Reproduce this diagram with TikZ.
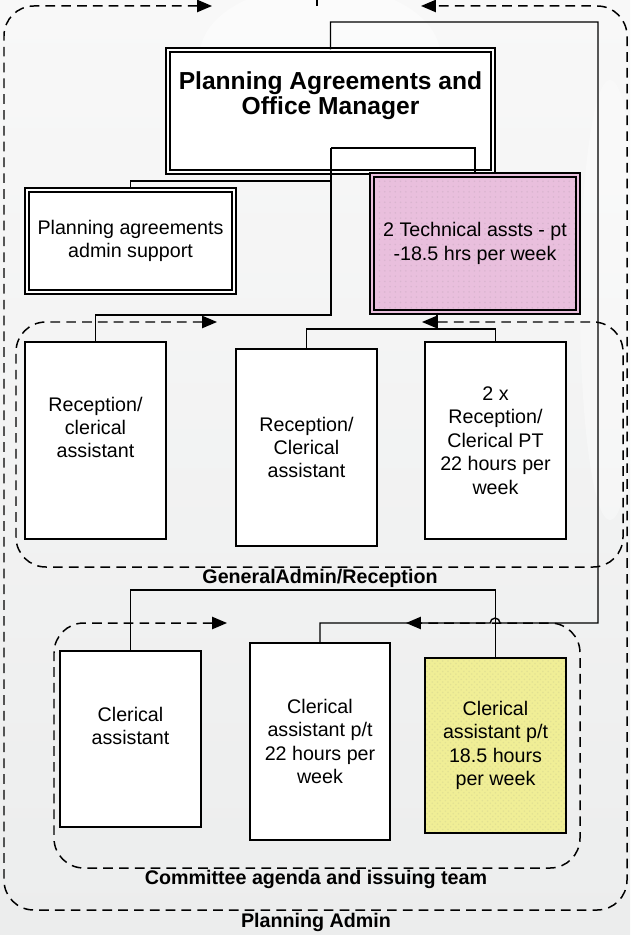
\documentclass[tikz,border=0pt]{standalone}
\usepackage{fontspec}
\setmainfont{Liberation Sans}
\usetikzlibrary{arrows.meta,patterns}

\definecolor{bgtop}{RGB}{248,248,248}
\definecolor{bgbottom}{RGB}{236,237,237}
\definecolor{techpink}{RGB}{233,191,221}
\definecolor{clerkyellow}{RGB}{240,238,150}

\newcommand\pxu{0.02cm}

\tikzset{
  staff/.style={draw, line width=0.8pt, fill=white, inner sep=0pt, align=center,
    font=\fontsize{11.2}{13.3}\selectfont},
  staffdbl/.style={staff, double, double distance=1.5pt},
  staffname/.style={align=center, inner sep=0pt, font=\fontsize{11.2}{13.3}\selectfont},
  team/.style={line width=0.85pt, dash pattern=on 5.5pt off 3.5pt, rounded corners=17pt,
    >={Triangle[length=8.5pt,width=7pt]}, <->},
  teamname/.style={inner sep=0pt, font=\bfseries\fontsize{11.2}{13}\selectfont},
  link/.style={line width=0.8pt},
}

\begin{document}
\begin{tikzpicture}[x=\pxu, y=-\pxu]
  \useasboundingbox (0,0) rectangle (630,935);
  \shade[top color=bgtop, bottom color=bgbottom] (0,0) rectangle (630,935);
  \fill[white, opacity=0.45] (320,55) ellipse [x radius=120, y radius=70];
  \fill[white, opacity=0.35] (610,300) ellipse [x radius=30, y radius=220];

  % teams
  \draw[team] (212,6) -- (4,6) -- (4,910) -- (627,910) -- (627,6) -- (421,6);
  \draw[team] (217,322) -- (16,322) -- (16,567) -- (623,567) -- (623,322) -- (422,322);
  \draw[team] (227,623) -- (54,623) -- (54,868) -- (580,868) -- (580,623) -- (406,623);

  \node[teamname] (general) at (320,578) {GeneralAdmin/Reception};
  \node[teamname] (committee) at (316,879) {Committee agenda and issuing team};
  \node[teamname] (admin) at (316,922) {Planning Admin};

  % manager and support
  \node[staffdbl, minimum width=325*\pxu, minimum height=122*\pxu] (mgr) at (330.5,111) {};
  \node[staffname, font=\bfseries\fontsize{14}{14.3}\selectfont] (mgr-t) at (330.5,96)
    {Planning Agreements and\\Office Manager};
  \node[staffdbl, minimum width=207*\pxu, minimum height=102*\pxu] (adm) at (130.5,241)
    {Planning agreements\\admin support};
  \node[staffdbl, double=techpink, preaction={fill=techpink}, pattern=dots,
    pattern color=techpink!85!gray, minimum width=206*\pxu, minimum height=137*\pxu]
    (tech) at (475,243.5) {2 Technical assts - pt\\-18.5 hrs per week};

  % reception
  \node[staff, minimum width=141*\pxu, minimum height=197*\pxu] (rc1) at (95.5,440.5) {};
  \node[staffname] (rc1-t) at (95.5,427.5) {Reception/\\clerical\\assistant};
  \node[staff, minimum width=141*\pxu, minimum height=197*\pxu] (rc2) at (306.5,447.5)
    {Reception/\\Clerical\\assistant};
  \node[staff, minimum width=141*\pxu, minimum height=197*\pxu] (rc3) at (495.5,440.5)
    {2 x\\Reception/\\Clerical PT\\22 hours per\\week};

  % committee
  \node[staff, minimum width=141*\pxu, minimum height=176*\pxu] (ca1) at (130.5,739) {};
  \node[staffname] (ca1-t) at (130.5,726) {Clerical\\assistant};
  \node[staff, minimum width=140*\pxu, minimum height=197*\pxu] (ca2) at (320,741.5)
    {Clerical\\assistant p/t\\22 hours per\\week};
  \node[staff, preaction={fill=clerkyellow}, pattern=crosshatch dots,
    pattern color=clerkyellow!88!gray, minimum width=141*\pxu, minimum height=175*\pxu]
    (ca3) at (495.5,745.5) {Clerical\\assistant p/t\\18.5 hours\\per week};

  % links
  \coordinate (offpage) at (317,0);
  \coordinate (hub) at (331,148);
  \coordinate (techjoin) at (437,329);
  \coordinate (cajoin) at (313,590);

  \draw[link] (offpage) -- (317,6);
  \draw[link] (mgr.north) -- (mgr.north |- 0,22) -- (598,22) -- (598,623) -- (500,623)
    arc[start angle=0, end angle=180, radius=2.8pt] -- (ca2.north |- 0,623) -- (ca2.north);
  \draw[link] (hub) -| (tech.north);
  \draw[link] (hub) -- (331,315) -| (rc1.north);
  \draw[link] (331,181) -| (adm.north);
  \draw[link] (tech.south -| techjoin) -- (techjoin);
  \draw[link] (rc2.north) |- (techjoin) -| (rc3.north);
  \draw[link] (ca1.north) |- (cajoin) -| (ca3.north);
\end{tikzpicture}
\end{document}
